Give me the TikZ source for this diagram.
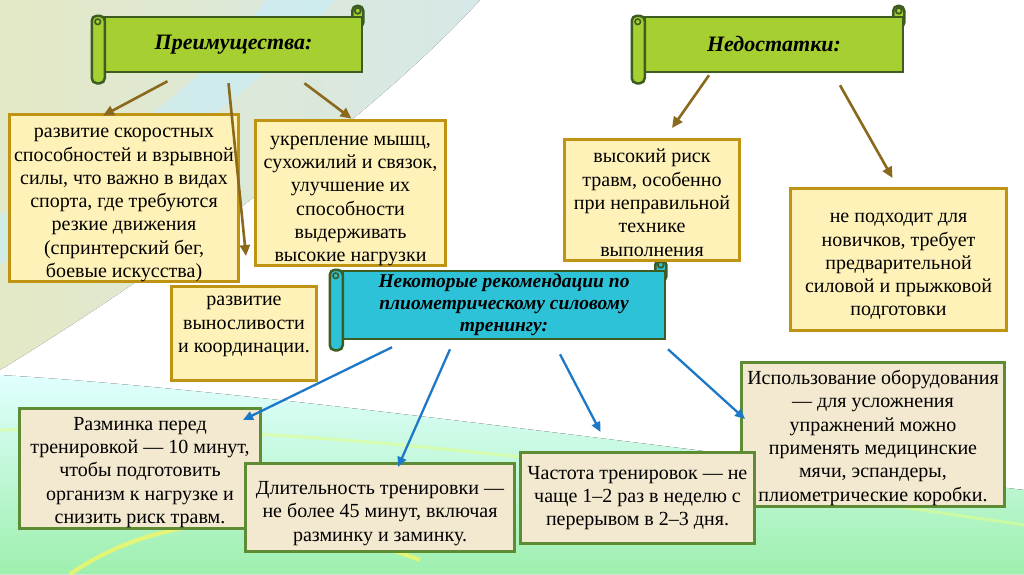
\documentclass[tikz,border=0pt]{standalone}
\usepackage{fontspec}
\setmainfont{Liberation Serif}
\usetikzlibrary{positioning,arrows.meta,backgrounds}

\definecolor{goldline}{HTML}{BE9412}
\definecolor{creamfill}{HTML}{FFF2B8}
\definecolor{oliveline}{HTML}{5E8C34}
\definecolor{beigefill}{HTML}{F3E8D0}
\definecolor{limefill}{HTML}{A6CF32}
\definecolor{tealfill}{HTML}{2EC2D8}
\definecolor{scrollline}{HTML}{3C5C22}
\definecolor{brownarr}{HTML}{8A681C}
\definecolor{bluearr}{HTML}{1E78C8}

% raise the first line of a box text
\newcommand{\lift}[1]{\rule{0pt}{#1}}

\begin{document}
\begin{tikzpicture}[
    x=1pt, y=-1pt,
    pro/.style={
        draw=goldline,
        fill=creamfill,
        line width=3pt,
        inner sep=0pt,
        align=center,
        font=\fontsize{20}{23.3}\selectfont
    },
    rec/.style={
        draw=oliveline,
        fill=beigefill,
        line width=3pt,
        inner sep=0pt,
        align=center,
        font=\fontsize{20}{23.3}\selectfont
    },
    banner/.style={
        draw=scrollline,
        line width=2.5pt,
        inner sep=0pt,
        align=center,
        font=\fontsize{22}{22}\selectfont\bfseries\itshape
    },
    lastline/.style={execute at end node={\rule[-#1]{0pt}{0pt}}},
    roll/.style={draw=scrollline, line width=2.5pt, rounded corners=5pt},
    brownarrow/.style={-{Triangle[length=11pt,width=10pt]}, draw=brownarr, line width=2.6pt},
    bluearrow/.style={-{Triangle[length=10pt,width=9pt]}, draw=bluearr, line width=2.3pt}
]

\useasboundingbox (0,0) rectangle (1024,574);

% background
\begin{scope}[on background layer]
\fill[white] (0,0) rectangle (1024,574);
\fill[left color=green!12!yellow!15!white, right color=cyan!8!white, opacity=.9]
    (0,0) -- (480,0) .. controls (380,110) and (180,260) .. (0,370) -- cycle;
\fill[cyan!22!white, opacity=.6]
    (265,0) -- (335,0) .. controls (260,90) and (120,190) .. (0,265)
    -- (0,215) .. controls (110,150) and (220,70) .. (265,0) -- cycle;
\fill[top color=cyan!12!white, bottom color=teal!32!green!38!white]
    (0,574) -- (0,375) .. controls (250,390) and (600,440) .. (1024,490) -- (1024,574) -- cycle;
\draw[yellow!65!white, line width=4pt, opacity=.7]
    (70,574) .. controls (150,520) and (260,500) .. (420,560);
\draw[green!30!yellow!45!white, line width=3pt, opacity=.6]
    (0,430) .. controls (300,420) and (650,470) .. (1024,525);
\end{scope}

% banners
\node[banner, fill=limefill, minimum width=257pt, minimum height=55pt] (pros) at (233.5,44.5) {Преимущества:};
\node[banner, fill=limefill, minimum width=258pt, minimum height=55pt] (cons) at (774,44.5) {Недостатки:};
\node[banner, fill=tealfill, minimum width=322pt, minimum height=68pt,
      font=\fontsize{19.5}{22}\selectfont\bfseries\itshape] (recs) at (504,305)
    {Некоторые рекомендации по\\плиометрическому силовому\\тренингу:};

\foreach \b/\c in {pros/limefill, cons/limefill, recs/tealfill} {
    \begin{scope}[on background layer]
    \draw[roll, fill=\c] ([xshift=-11pt,yshift=10pt]\b.north east) rectangle ([yshift=-12pt]\b.north east);
    \draw[scrollline, line width=1.8pt] ([xshift=-5.5pt,yshift=5pt]\b.north east) circle[radius=3pt];
    \end{scope}
    \draw[roll, fill=\c] ([xshift=-12pt]\b.north west) rectangle ([xshift=1pt,yshift=-10pt]\b.south west);
    \draw[scrollline, line width=1.6pt] ([xshift=-6pt,yshift=-6pt]\b.north west) circle[radius=2.8pt];
}

% advantages and drawbacks
\node[pro, minimum width=229pt, minimum height=167pt] (speed) at (124,198)
    {\lift{23.5pt}развитие скоростных\\способностей и взрывной\\силы, что важно в видах\\спорта, где требуются\\резкие движения\\(спринтерский бег,\\боевые искусства)};
\node[pro, minimum width=190pt, minimum height=141pt] (muscle) at (350.5,193)
    {\lift{25pt}укрепление мышц,\\сухожилий и связок,\\улучшение их\\способности\\выдерживать\\высокие нагрузки};
\node[pro, lastline=18pt, minimum width=145pt, minimum height=94pt] (endur) at (244,333.5)
    {развитие\\выносливости\\и координации.};
\node[pro, minimum width=175pt, minimum height=121pt] (risk) at (652,200)
    {\lift{19pt}высокий риск\\травм, особенно\\при неправильной\\технике\\выполнения};
\node[pro, minimum width=216pt, minimum height=142pt] (novice) at (898.5,259.5)
    {\lift{23.5pt}не подходит для\\новичков, требует\\предварительной\\силовой и прыжковой\\подготовки};

% recommendations
\node[rec, minimum width=241pt, minimum height=120pt] (warm) at (140,468.5)
    {\lift{21pt}Разминка перед\\тренировкой — 10 минут,\\чтобы подготовить\\организм к нагрузке и\\снизить риск травм.};
\node[rec, minimum width=269pt, minimum height=88pt] (length) at (380,507.5)
    {\lift{25pt}Длительность тренировки —\\не более 45 минут, включая\\разминку и заминку.};
\node[rec, minimum width=263pt, minimum height=144pt] (equip) at (873,434)
    {\lift{22pt}Использование оборудования\\— для усложнения\\упражнений можно\\применять медицинские\\мячи, эспандеры,\\плиометрические коробки.};
\node[rec, minimum width=234pt, minimum height=91pt] (freq) at (637.5,498)
    {Частота тренировок — не\\чаще 1–2 раз в неделю с\\перерывом в 2–3 дня.};

% connectors
\draw[brownarrow] ([xshift=-66pt,yshift=-8pt]pros.south) -- ([xshift=-21pt,yshift=-3pt]speed.north);
\draw[brownarrow] ([xshift=-5pt,yshift=-10pt]pros.south) -- ([xshift=2pt,yshift=29pt]endur.north);
\draw[brownarrow] ([xshift=71pt,yshift=-10pt]pros.south) -- ([xshift=1pt]muscle.north);
\draw[brownarrow] ([xshift=-65pt,yshift=-2pt]cons.south) -- ([xshift=20pt,yshift=10pt]risk.north);
\draw[brownarrow] ([xshift=66pt,yshift=-12pt]cons.south) -- ([xshift=-6pt,yshift=9pt]novice.north);

\draw[bluearrow] ([xshift=-112pt,yshift=-7pt]recs.south) -- ([xshift=-19pt,yshift=-13pt]warm.north east);
\draw[bluearrow] ([xshift=-54pt,yshift=-9pt]recs.south) -- ([xshift=18pt,yshift=-5pt]length.north);
\draw[bluearrow] ([xshift=56pt,yshift=-14pt]recs.south) -- ([xshift=-37pt,yshift=19pt]freq.north);
\draw[bluearrow] ([xshift=164pt,yshift=-9pt]recs.south) -- ([xshift=5pt,yshift=15pt]equip.west);

\end{tikzpicture}
\end{document}
